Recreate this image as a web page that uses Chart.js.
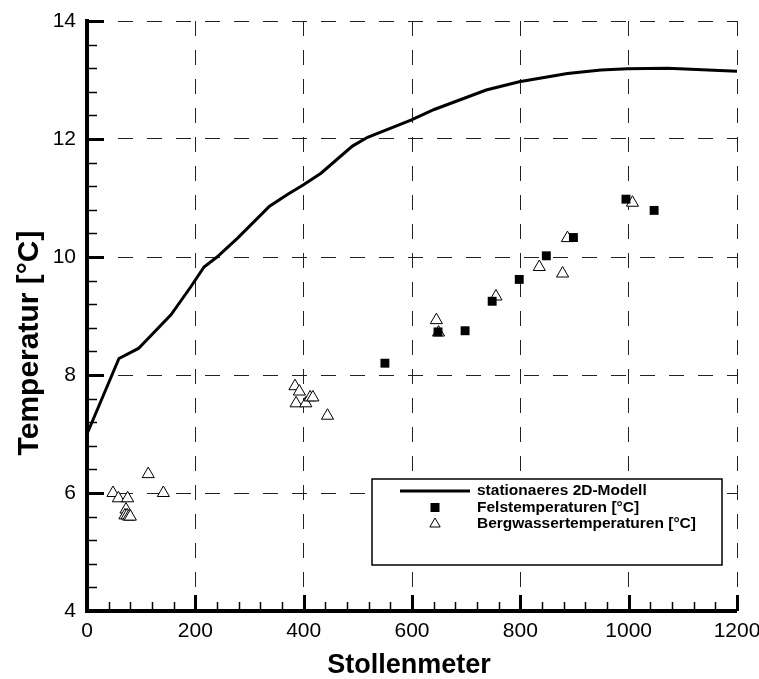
<!DOCTYPE html>
<html>
<head>
<meta charset="utf-8">
<script src="https://cdn.jsdelivr.net/npm/chart.js@4"></script>
<style>
  html, body { margin: 0; padding: 0; background: #fff; }
  #wrap { width: 759px; height: 679px; }
</style>
</head>
<body>
<div id="wrap"><canvas id="chart" width="759" height="679"></canvas></div>
<script>
// ── DATA ───────────────────────────────────────────────────────────────────

// stationaeres 2D-Modell (curve)
const MODEL_X = [0, 59, 95, 155, 192, 216, 240, 278, 337, 370, 399, 432, 490, 518, 598, 641, 737, 798, 887, 949, 998, 1072, 1200];
const MODEL_Y = [7.0, 8.28, 8.45, 9.02, 9.5, 9.83, 10.0, 10.32, 10.86, 11.06, 11.22, 11.42, 11.88, 12.03, 12.32, 12.5, 12.83, 12.97, 13.11, 13.17, 13.19, 13.2, 13.15];

// Felstemperaturen (filled squares)
const FELS_X = [550, 648, 698, 748, 798, 848, 898, 995, 1047];
const FELS_Y = [8.2, 8.73, 8.75, 9.25, 9.62, 10.02, 10.33, 10.98, 10.79];

// Bergwassertemperaturen (open triangles)
const WASSER_X = [48, 58, 75, 113, 141, 72, 70, 74, 77, 80, 384, 392, 386, 404, 412, 417, 444, 645, 649, 755, 835, 878, 887, 1007];
const WASSER_Y = [6.0, 5.91, 5.91, 6.32, 6.0, 5.72, 5.62, 5.62, 5.6, 5.6, 7.81, 7.72, 7.52, 7.52, 7.62, 7.62, 7.31, 8.93, 8.72, 9.33, 9.83, 9.72, 10.32, 10.92];

const X_TICKS = [0, 200, 400, 600, 800, 1000, 1200];
const Y_TICKS = [4, 6, 8, 10, 12, 14];
const X_MINOR = 40;
const Y_MINOR = 0.4;

const LABELS = ['stationaeres 2D-Modell', 'Felstemperaturen [°C]', 'Bergwassertemperaturen [°C]'];
const X_TITLE = 'Stollenmeter';
const Y_TITLE = 'Temperatur [°C]';

// ── HELPERS ────────────────────────────────────────────────────────────────

const pts = (xs, ys) => xs.map((x, i) => ({ x, y: ys[i] }));
const FONT = '"Liberation Sans", Arial, sans-serif';

// Tecplot-style ticks pointing into the plot
const inwardTicks = {
  id: 'inwardTicks',
  afterDatasetsDraw(chart) {
    const { ctx, chartArea: a, scales: { x, y } } = chart;
    ctx.save();
    ctx.strokeStyle = '#000';
    const xMajor = new Set(X_TICKS);
    for (let v = X_TICKS[0]; v <= X_TICKS[X_TICKS.length - 1] + 1e-6; v += X_MINOR) {
      const major = xMajor.has(Math.round(v));
      const px = Math.round(x.getPixelForValue(v)) + 0.5;
      ctx.lineWidth = major ? 3 : 1.5;
      ctx.beginPath();
      ctx.moveTo(px, a.bottom);
      ctx.lineTo(px, a.bottom - (major ? 16 : 9));
      ctx.stroke();
    }
    const yMajor = new Set(Y_TICKS.map(v => v.toFixed(1)));
    for (let v = Y_TICKS[0]; v <= Y_TICKS[Y_TICKS.length - 1] + 1e-6; v += Y_MINOR) {
      const major = yMajor.has(v.toFixed(1));
      const py = Math.round(y.getPixelForValue(v)) + 0.5;
      ctx.lineWidth = major ? 3 : 1.5;
      ctx.beginPath();
      ctx.moveTo(a.left, py);
      ctx.lineTo(a.left + (major ? 17 : 10), py);
      ctx.stroke();
    }
    ctx.restore();
  },
};

// Axis titles (placed by hand, the y title sits below the axis centre)
const axisTitles = {
  id: 'axisTitles',
  afterDraw(chart) {
    const { ctx } = chart;
    ctx.save();
    ctx.fillStyle = '#000';
    ctx.textAlign = 'center';
    ctx.textBaseline = 'middle';
    ctx.font = `bold 27px ${FONT}`;
    ctx.fillText(X_TITLE, 409, 666);
    ctx.translate(30, 343);
    ctx.rotate(-Math.PI / 2);
    ctx.font = `bold 30px ${FONT}`;
    ctx.fillText(Y_TITLE, 0, 0);
    ctx.restore();
  },
};

// Boxed legend inside the plot, lower right
const boxLegend = {
  id: 'boxLegend',
  afterDraw(chart) {
    const { ctx } = chart;
    const bx = 372, by = 479, bw = 350, bh = 86;
    ctx.save();
    ctx.fillStyle = '#fff';
    ctx.fillRect(bx, by, bw, bh);
    ctx.strokeStyle = '#000';
    ctx.lineWidth = 1.5;
    ctx.strokeRect(bx, by, bw, bh);

    chart.data.datasets.forEach((ds, i) => {
      const cy = by + 12 + i * 16.5;
      const cx = 435;
      ctx.strokeStyle = '#000';
      ctx.fillStyle = '#000';
      if (ds.showLine) {
        ctx.lineWidth = 3;
        ctx.beginPath();
        ctx.moveTo(400, cy);
        ctx.lineTo(470, cy);
        ctx.stroke();
      } else if (ds.pointStyle === 'rect') {
        ctx.fillRect(cx - 4.5, cy - 4.5, 9, 9);
      } else {
        const r = 6;
        ctx.fillStyle = '#fff';
        ctx.lineWidth = 1;
        ctx.beginPath();
        ctx.moveTo(cx, cy - r);
        ctx.lineTo(cx + r * 0.866, cy + r / 2);
        ctx.lineTo(cx - r * 0.866, cy + r / 2);
        ctx.closePath();
        ctx.fill();
        ctx.stroke();
      }
      ctx.fillStyle = '#000';
      ctx.font = `bold 15.5px ${FONT}`;
      ctx.textBaseline = 'middle';
      ctx.textAlign = 'left';
      ctx.fillText(ds.label, 477, cy);
    });
    ctx.restore();
  },
};

// ── CHART ──────────────────────────────────────────────────────────────────

const gridOpts = {
  drawTicks: false,
  color: '#222',
  lineWidth: c => (c.index === 0 ? 0 : 1),
};
const borderOpts = { display: true, color: '#000', width: 4, dash: [15, 14] };
const tickFont = { family: FONT, size: 21 };

new Chart(document.getElementById('chart').getContext('2d'), {
  type: 'scatter',
  data: {
    datasets: [
      {
        label: LABELS[0],
        data: pts(MODEL_X, MODEL_Y),
        showLine: true,
        borderColor: '#000',
        borderWidth: 3,
        pointRadius: 0,
        tension: 0,
        fill: false,
      },
      {
        label: LABELS[1],
        data: pts(FELS_X, FELS_Y),
        pointStyle: 'rect',
        pointRadius: 6.3,
        backgroundColor: '#000',
        borderWidth: 0,
      },
      {
        label: LABELS[2],
        data: pts(WASSER_X, WASSER_Y),
        pointStyle: 'triangle',
        pointRadius: 7,
        backgroundColor: '#fff',
        borderColor: '#000',
        borderWidth: 1,
      },
    ],
  },
  options: {
    responsive: false,
    animation: false,
    layout: { padding: { top: 21, right: 22, left: 0, bottom: 0 } },
    plugins: { legend: { display: false }, tooltip: { enabled: false } },
    scales: {
      x: {
        type: 'linear',
        min: X_TICKS[0],
        max: X_TICKS[X_TICKS.length - 1],
        afterBuildTicks: s => { s.ticks = X_TICKS.map(v => ({ value: v })); },
        afterFit: s => { s.height = 68; s.paddingLeft = 0; s.paddingRight = 0; },
        ticks: { color: '#000', font: tickFont, padding: 8, maxRotation: 0, callback: v => String(v) },
        grid: gridOpts,
        border: borderOpts,
      },
      y: {
        min: Y_TICKS[0],
        max: Y_TICKS[Y_TICKS.length - 1],
        afterBuildTicks: s => { s.ticks = Y_TICKS.map(v => ({ value: v })); },
        afterFit: s => { s.width = 87; s.paddingTop = 0; s.paddingBottom = 0; },
        ticks: { color: '#000', font: tickFont, padding: 11, callback: v => String(v) },
        grid: gridOpts,
        border: borderOpts,
      },
    },
  },
  plugins: [inwardTicks, boxLegend, axisTitles],
});
</script>
</body>
</html>
